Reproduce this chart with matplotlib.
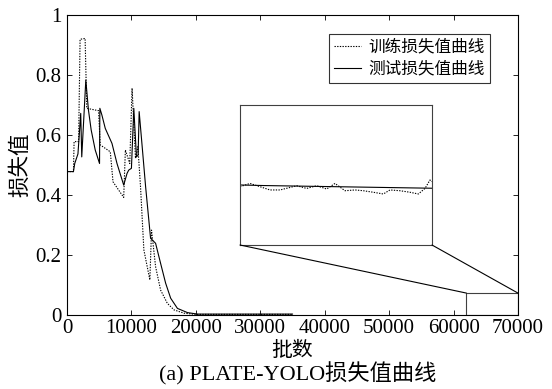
import matplotlib
matplotlib.use("Agg")
import matplotlib.pyplot as plt
from matplotlib.patches import Rectangle, ConnectionPatch

plt.rcParams['font.family'] = ['Liberation Serif', 'Noto Sans CJK SC']

# ---- data ----
test_x = [0, 1000, 1200, 1700, 2130, 2290, 2920, 3330, 3750, 4380, 5050, 5100, 5410, 5940,
          6980, 7760, 8800, 9320, 9580, 10000, 10370, 10780, 11040, 11200, 11670, 12200,
          12970, 13750, 14530, 15310, 16090, 17140, 18700, 20260, 25000, 30000, 35000]
test_y = [0.478, 0.478, 0.505, 0.537, 0.672, 0.527, 0.783, 0.683, 0.617, 0.55, 0.505, 0.689,
          0.667, 0.622, 0.572, 0.505, 0.433, 0.472, 0.483, 0.489, 0.689, 0.527, 0.533, 0.678,
          0.561, 0.428, 0.256, 0.239, 0.172, 0.106, 0.056, 0.022, 0.008, 0.003, 0.003, 0.003, 0.003]

train_x = [0, 1000, 1100, 1800, 2030, 2810, 3070, 4900, 5160, 6720, 7140, 8800, 9060, 9740, 10100,
           10630, 11000, 11410, 11930, 12860, 13120, 13750, 14530, 15570, 16610, 18180,
           20000, 25000, 30000, 35000]
train_y = [0.478, 0.478, 0.578, 0.578, 0.919, 0.922, 0.689, 0.681, 0.567, 0.544, 0.444, 0.392, 0.55,
           0.505, 0.756, 0.522, 0.561, 0.428, 0.217, 0.117, 0.283, 0.161, 0.083, 0.039, 0.017,
           0.006, 0.002, 0.002, 0.002, 0.002]

inset_train_x = [62000, 62417, 62833, 63250, 63667, 64083, 64361, 64778, 65194, 65611, 65958,
                 66375, 66792, 67139, 67556, 67972, 68250, 68667, 69083, 69431, 69708, 69917, 69986]
inset_train_y = [0.0304, 0.0321, 0.0304, 0.0287, 0.0287, 0.0300, 0.0309, 0.0295, 0.0309, 0.0292,
                 0.0321, 0.0283, 0.0287, 0.0283, 0.0275, 0.0266, 0.0287, 0.0283, 0.0275, 0.0266,
                 0.0295, 0.0339, 0.0330]
inset_test_x = [62000, 63000, 65000, 67000, 69000, 70000]
inset_test_y = [0.0313, 0.0310, 0.0306, 0.0302, 0.0298, 0.0296]

x_ticks = [0, 10000, 20000, 30000, 40000, 50000, 60000, 70000]
y_ticks = [0, 0.2, 0.4, 0.6, 0.8, 1.0]
y_tick_labels = ['0', '0.2', '0.4', '0.6', '0.8', '1']
zoom_x = (62000, 70000)
zoom_y = (0, 0.073)

fig = plt.figure(figsize=(5.52, 3.89), dpi=100)
ax = fig.add_axes([67/552, 1-315/389, 451/552, 300/389])

ax.plot(train_x, train_y, color='black', lw=0.8, ls=(0, (1.2, 1.2)), label='训练损失值曲线')
ax.plot(test_x, test_y, color='black', lw=0.8, label='测试损失值曲线')

ax.set_xlim(0, 70000)
ax.set_ylim(0, 1)
ax.set_xticks(x_ticks)
ax.set_xticklabels([str(v) for v in x_ticks])
ax.set_yticks(y_ticks)
ax.set_yticklabels(y_tick_labels)
ax.tick_params(direction='in', top=True, right=True, length=3.5, width=0.6, labelsize=15)
ax.tick_params(axis='x', pad=3)
ax.tick_params(axis='y', pad=4)
for s in ax.spines.values():
    s.set_linewidth(0.8)

ax.set_xlabel('批数', fontsize=15, labelpad=3)
ax.set_ylabel('损失值', fontsize=15.5, labelpad=3)

leg = ax.legend(loc='upper right', bbox_to_anchor=(0.938, 0.937), fontsize=12, frameon=True,
                fancybox=False, edgecolor='black', handlelength=1.6, handletextpad=0.4,
                borderpad=0.35, labelspacing=0.35, borderaxespad=0)
leg.get_frame().set_linewidth(0.8)

# zoom rectangle
ax.add_patch(Rectangle((zoom_x[0], zoom_y[0]), zoom_x[1]-zoom_x[0], zoom_y[1]-zoom_y[0],
                       fill=False, edgecolor='0.25', lw=0.8))

ins = fig.add_axes([240/552, 1-245/389, 192/552, 140/389])
ins.plot(inset_train_x, inset_train_y, color='black', lw=0.8, ls=(0, (1.2, 1.2)))
ins.plot(inset_test_x, inset_test_y, color='black', lw=0.8)
ins.set_xlim(*zoom_x)
ins.set_ylim(*zoom_y)
ins.set_xticks([])
ins.set_yticks([])
for s in ins.spines.values():
    s.set_linewidth(0.8)
    s.set_edgecolor('0.25')

for xi in zoom_x:
    cp = ConnectionPatch(xyA=(xi, zoom_y[0]), coordsA=ins.transData,
                         xyB=(xi, zoom_y[1]), coordsB=ax.transData,
                         color='black', lw=0.8)
    fig.add_artist(cp)

fig.text(298/552, 1-374/389, '(a) PLATE-YOLO损失值曲线', ha='center', va='center', fontsize=16)

fig.savefig('out.png', dpi=100)
